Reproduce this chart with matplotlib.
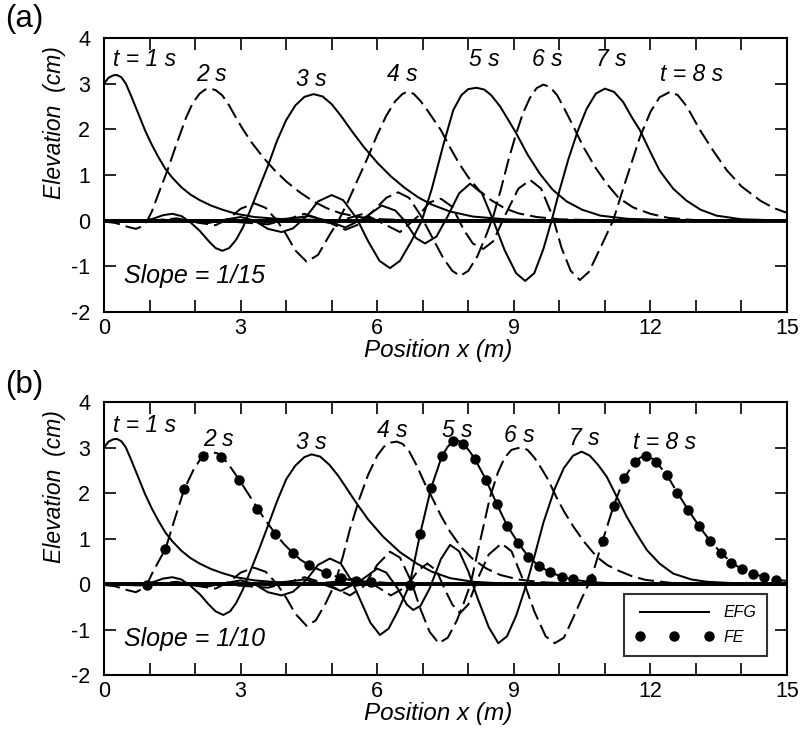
import matplotlib
matplotlib.use("Agg")
import matplotlib.pyplot as plt
from matplotlib.ticker import MultipleLocator
from matplotlib.lines import Line2D

plt.rcParams['font.family'] = ['Liberation Sans', 'DejaVu Sans']
plt.rcParams['axes.unicode_minus'] = False

# ---- panel (a), slope 1/15 : EFG snapshots t = 1..8 s ----
a1_x = [0, 0.1, 0.2, 0.28, 0.38, 0.48, 0.6, 0.75, 0.9, 1.05, 1.2, 1.35, 1.5, 1.7, 1.9, 2.1, 2.35, 2.6, 2.9, 3.3,
        3.8, 4.5, 5.5, 15]
a1_y = [3.0, 3.13, 3.18, 3.19, 3.14, 3.0, 2.72, 2.35, 1.98, 1.66, 1.38, 1.13, 0.94, 0.73, 0.57, 0.45, 0.33, 0.24, 0.15,
        0.08, 0.04, 0.02, 0.0, 0]
a2_x = [0, 0.25, 0.5, 0.7, 0.85, 0.95, 1.05, 1.2, 1.4, 1.6, 1.8, 1.95, 2.1, 2.22, 2.33, 2.45, 2.6, 2.75, 2.9, 3.05,
        3.25, 3.5, 3.75, 4.0, 4.3, 4.6, 4.9, 5.2, 5.6, 6.1, 6.8, 15]
a2_y = [-0.02, -0.05, -0.13, -0.18, -0.12, 0.0, 0.2, 0.6, 1.12, 1.7, 2.25, 2.58, 2.78, 2.87, 2.89, 2.86, 2.74, 2.52,
        2.25, 2.0, 1.7, 1.38, 1.1, 0.86, 0.62, 0.42, 0.27, 0.16, 0.08, 0.03, 0.01, 0]
a3_x = [0, 0.4, 0.8, 1.1, 1.3, 1.5, 1.7, 1.9, 2.1, 2.3, 2.45, 2.6, 2.75, 2.9, 3.05, 3.2, 3.4, 3.6, 3.8, 4.0, 4.2,
        4.4, 4.6, 4.8, 5.0, 5.2, 5.45, 5.7, 6.0, 6.3, 6.6, 6.9, 7.2, 7.6, 8.1, 8.8, 9.6, 15]
a3_y = [0, -0.02, -0.03, 0.05, 0.12, 0.15, 0.1, -0.04, -0.22, -0.45, -0.6, -0.66, -0.6, -0.42, -0.15, 0.2, 0.7, 1.2,
        1.75, 2.2, 2.52, 2.71, 2.77, 2.72, 2.55, 2.3, 1.95, 1.62, 1.27, 0.97, 0.72, 0.51, 0.35, 0.2, 0.09, 0.03, 0.01, 0]
a4_x = [0, 0.8, 1.6, 2.1, 2.45, 2.75, 3.0, 3.3, 3.55, 3.8, 4.0, 4.2, 4.45, 4.7, 4.95, 5.15, 5.35, 5.55, 5.8, 6.0,
        6.2, 6.4, 6.55, 6.65, 6.8, 6.95, 7.1, 7.25, 7.4, 7.6, 7.8, 8.0, 8.25, 8.5, 8.8, 9.1, 9.5, 10.0, 10.8, 15]
a4_y = [0, -0.02, 0.05, -0.05, -0.1, 0.05, 0.26, 0.38, 0.28, 0.0, -0.3, -0.65, -0.9, -0.75, -0.32, 0.0, 0.4, 0.85,
        1.4, 1.88, 2.3, 2.62, 2.77, 2.82, 2.78, 2.62, 2.42, 2.2, 1.98, 1.6, 1.25, 0.95, 0.65, 0.45, 0.27, 0.16, 0.08,
        0.03, 0.01, 0]
a5_x = [0, 1.5, 2.0, 2.3, 2.65, 3.0, 3.3, 3.6, 3.9, 4.15, 4.45, 4.7, 5.0, 5.25, 5.55, 5.8, 6.05, 6.28, 6.5, 6.75,
        6.98, 7.2, 7.45, 7.67, 7.85, 8.0, 8.18, 8.35, 8.5, 8.7, 8.9, 9.06, 9.3, 9.57, 9.85, 10.16, 10.5, 10.9, 11.5,
        12.5, 15]
a5_y = [0, 0, -0.03, -0.05, 0.02, 0.08, 0.0, -0.18, -0.25, -0.17, 0.1, 0.42, 0.56, 0.45, 0.05, -0.45, -0.88, -1.04,
        -0.88, -0.45, 0.0, 0.7, 1.65, 2.42, 2.75, 2.88, 2.91, 2.87, 2.75, 2.5, 2.17, 1.9, 1.45, 1.03, 0.68, 0.42, 0.24,
        0.11, 0.04, 0.01, 0]
a6_x = [0, 2.5, 3.6, 4.0, 4.4, 4.85, 5.3, 5.6, 5.9, 6.2, 6.46, 6.7, 6.95, 7.2, 7.45, 7.65, 7.82, 8.0, 8.2, 8.4,
        8.55, 8.72, 8.88, 9.05, 9.2, 9.35, 9.5, 9.65, 9.8, 9.95, 10.09, 10.3, 10.53, 10.8, 11.04, 11.3, 11.62, 12.0,
        12.4, 13.0, 15]
a6_y = [0, 0, -0.08, 0.02, 0.15, 0.0, -0.2, -0.08, 0.2, 0.5, 0.62, 0.5, 0.12, -0.35, -0.82, -1.1, -1.21, -1.1, -0.78,
        -0.3, 0.1, 0.7, 1.32, 1.9, 2.35, 2.68, 2.9, 2.98, 2.92, 2.75, 2.49, 2.08, 1.61, 1.15, 0.81, 0.5, 0.29, 0.15,
        0.06, 0.01, 0]
a7_x = [0, 3.5, 4.1, 4.5, 4.9, 5.3, 5.7, 6.1, 6.4, 6.6, 6.85, 7.05, 7.3, 7.55, 7.8, 8.04, 8.3, 8.55, 8.8, 9.05,
        9.25, 9.45, 9.65, 9.83, 10.0, 10.2, 10.41, 10.6, 10.8, 11.0, 11.2, 11.4, 11.6, 11.77, 12.0, 12.2, 12.5, 12.79,
        13.1, 13.45, 14.0, 15]
a7_y = [0, 0, 0.05, 0.1, 0.0, -0.15, 0.05, 0.33, 0.22, 0.0, -0.38, -0.5, -0.35, 0.1, 0.6, 0.81, 0.6, 0.0, -0.65,
        -1.15, -1.32, -1.15, -0.62, 0.0, 0.65, 1.35, 1.98, 2.45, 2.78, 2.89, 2.82, 2.6, 2.25, 1.98, 1.5, 1.1, 0.7,
        0.44, 0.24, 0.11, 0.03, 0]
a8_x = [0, 4.5, 5.0, 5.7, 6.1, 6.5, 6.9, 7.15, 7.4, 7.65, 7.9, 8.1, 8.33, 8.55, 8.8, 9.1, 9.36, 9.6, 9.85, 10.05,
        10.25, 10.45, 10.65, 10.9, 11.18, 11.45, 11.77, 12.0, 12.2, 12.43, 12.6, 12.8, 13.09, 13.4, 13.68, 14.0,
        14.41, 14.7, 15.0]
a8_y = [0, 0, -0.05, 0.15, -0.05, -0.25, 0.1, 0.4, 0.48, 0.3, -0.2, -0.5, -0.62, -0.45, 0.1, 0.7, 0.89, 0.7, 0.1,
        -0.6, -1.1, -1.3, -1.12, -0.6, 0.0, 0.85, 1.83, 2.38, 2.7, 2.82, 2.75, 2.5, 1.98, 1.5, 1.1, 0.75, 0.44, 0.28,
        0.17]

# ---- panel (b), slope 1/10 : EFG snapshots ----
b1_x = [0, 0.1, 0.2, 0.28, 0.38, 0.48, 0.6, 0.75, 0.9, 1.05, 1.2, 1.35, 1.5, 1.7, 1.9, 2.1, 2.35, 2.6, 2.9, 3.3,
        3.8, 4.5, 5.5, 15]
b1_y = [3.0, 3.13, 3.18, 3.19, 3.14, 3.0, 2.72, 2.35, 1.98, 1.66, 1.38, 1.13, 0.94, 0.73, 0.57, 0.45, 0.33, 0.24, 0.15,
        0.08, 0.04, 0.02, 0.0, 0]
b2_x = [0, 0.25, 0.5, 0.7, 0.85, 0.94, 1.05, 1.2, 1.35, 1.55, 1.76, 1.97, 2.1, 2.22, 2.37, 2.5, 2.63, 2.77, 2.97,
        3.17, 3.37, 3.56, 3.76, 3.95, 4.14, 4.32, 4.51, 4.87, 5.2, 5.53, 5.86, 6.3, 7.0, 15]
b2_y = [-0.02, -0.05, -0.13, -0.18, -0.1, -0.02, 0.22, 0.5, 0.77, 1.42, 2.08, 2.52, 2.72, 2.85, 2.9, 2.87, 2.76, 2.58,
        2.29, 1.98, 1.66, 1.38, 1.11, 0.88, 0.69, 0.53, 0.41, 0.25, 0.13, 0.07, 0.05, 0.02, 0.0, 0]
b3_x = [0, 0.4, 0.8, 1.1, 1.3, 1.5, 1.7, 1.9, 2.1, 2.3, 2.45, 2.62, 2.77, 2.9, 3.05, 3.2, 3.4, 3.6, 3.8, 4.0, 4.2,
        4.4, 4.56, 4.75, 4.95, 5.15, 5.35, 5.55, 5.8, 6.13, 6.5, 6.87, 7.2, 7.6, 8.1, 8.8, 9.6, 15]
b3_y = [0, -0.02, -0.03, 0.05, 0.12, 0.15, 0.1, -0.04, -0.22, -0.45, -0.6, -0.68, -0.6, -0.42, -0.12, 0.25, 0.75,
        1.28, 1.82, 2.3, 2.6, 2.79, 2.85, 2.8, 2.62, 2.37, 2.07, 1.77, 1.42, 1.04, 0.7, 0.45, 0.27, 0.13, 0.05, 0.01,
        0.0, 0]
b4_x = [0, 0.8, 1.6, 2.1, 2.45, 2.75, 3.0, 3.29, 3.55, 3.8, 4.0, 4.2, 4.45, 4.65, 4.87, 5.07, 5.25, 5.4, 5.6, 5.8,
        6.0, 6.15, 6.3, 6.43, 6.56, 6.7, 6.87, 7.05, 7.23, 7.4, 7.6, 7.85, 8.1, 8.4, 8.7, 9.1, 9.6, 10.3, 15]
b4_y = [0, -0.02, 0.05, -0.05, -0.1, 0.05, 0.25, 0.36, 0.27, 0.0, -0.3, -0.65, -0.92, -0.8, -0.42, 0.0, 0.62, 1.2,
        1.85, 2.4, 2.82, 3.02, 3.11, 3.13, 3.08, 2.92, 2.6, 2.2, 1.85, 1.5, 1.15, 0.8, 0.55, 0.34, 0.2, 0.1, 0.04,
        0.01, 0]
b5_x = [0, 1.5, 2.0, 2.3, 2.65, 3.0, 3.3, 3.6, 3.9, 4.15, 4.45, 4.7, 4.96, 5.2, 5.45, 5.65, 5.85, 6.06, 6.25, 6.45,
        6.71, 6.94, 7.18, 7.42, 7.55, 7.67, 7.78, 7.89, 8.02, 8.15, 8.39, 8.63, 8.86, 9.1, 9.32, 9.56, 9.8, 10.05,
        10.29, 10.7, 11.3, 12.0, 15]
b5_y = [0, 0, -0.03, -0.05, 0.02, 0.08, 0.0, -0.18, -0.25, -0.17, 0.1, 0.42, 0.56, 0.45, 0.05, -0.4, -0.85, -1.12,
        -0.98, -0.6, -0.02, 1.09, 2.1, 2.81, 3.02, 3.14, 3.15, 3.08, 2.93, 2.74, 2.29, 1.75, 1.27, 0.9, 0.6, 0.39,
        0.26, 0.16, 0.1, 0.04, 0.01, 0, 0]
b6_x = [0, 2.5, 3.6, 4.0, 4.4, 4.9, 5.4, 5.7, 6.0, 6.28, 6.5, 6.75, 6.95, 7.15, 7.35, 7.55, 7.75, 7.9, 8.05, 8.25,
        8.48, 8.65, 8.8, 8.95, 9.14, 9.3, 9.45, 9.6, 9.75, 9.94, 10.1, 10.31, 10.55, 10.82, 11.05, 11.26, 11.6, 11.9,
        12.5, 15]
b6_y = [0, 0, -0.08, 0.02, 0.15, 0.0, -0.25, -0.05, 0.42, 0.71, 0.58, 0.05, -0.55, -1.05, -1.3, -1.18, -0.8, -0.42,
        0.0, 0.9, 1.92, 2.45, 2.78, 2.95, 3.0, 2.95, 2.78, 2.55, 2.3, 1.9, 1.6, 1.26, 0.92, 0.6, 0.42, 0.31, 0.17,
        0.09, 0.02, 0]
b7_x = [0, 3.5, 4.0, 4.4, 4.8, 5.2, 5.6, 6.0, 6.2, 6.45, 6.65, 6.79, 6.95, 7.15, 7.4, 7.6, 7.8, 8.0, 8.2, 8.45,
        8.66, 8.85, 9.05, 9.28, 9.45, 9.65, 9.9, 10.1, 10.3, 10.49, 10.67, 10.85, 11.04, 11.26, 11.48, 11.7, 11.92,
        12.2, 12.5, 12.9, 13.24, 14, 15]
b7_y = [0, 0, 0.05, 0.1, 0.0, -0.15, 0.05, 0.34, 0.25, -0.1, -0.45, -0.57, -0.48, -0.1, 0.55, 0.86, 0.72, 0.28,
        -0.3, -0.95, -1.3, -1.15, -0.7, 0.0, 0.6, 1.35, 2.1, 2.55, 2.82, 2.91, 2.82, 2.62, 2.36, 1.92, 1.48, 1.1, 0.75,
        0.45, 0.23, 0.1, 0.05, 0.01, 0]
b8_x = [0, 4.5, 5.1, 5.5, 5.9, 6.3, 6.65, 6.9, 7.1, 7.3, 7.5, 7.65, 7.82, 8.0, 8.2, 8.45, 8.73, 8.95, 9.2, 9.45,
        9.7, 9.9, 10.1, 10.3, 10.5, 10.7, 10.95, 11.19, 11.42, 11.66, 11.78, 11.9, 12.01, 12.12, 12.36, 12.59, 12.83,
        13.07, 13.31, 13.55, 13.78, 14.02, 14.26, 14.5, 14.76, 15]
b8_y = [0, 0, 0.05, 0.12, 0.0, -0.25, -0.05, 0.3, 0.45, 0.3, -0.15, -0.45, -0.64, -0.45, 0.1, 0.65, 0.89, 0.72, 0.1,
        -0.6, -1.15, -1.3, -1.18, -0.75, -0.3, 0.12, 0.95, 1.71, 2.32, 2.69, 2.78, 2.82, 2.78, 2.69, 2.4, 2.01, 1.63,
        1.27, 0.95, 0.69, 0.47, 0.32, 0.23, 0.15, 0.09, 0.07]

# FE results (dots) at t = 2, 5, 8 s in panel (b)
fe2_x = [0.94, 1.35, 1.76, 2.18, 2.56, 2.97, 3.37, 3.76, 4.14, 4.51, 4.87, 5.2, 5.53, 5.86]
fe2_y = [-0.02, 0.77, 2.08, 2.81, 2.80, 2.29, 1.66, 1.11, 0.69, 0.41, 0.25, 0.13, 0.07, 0.05]
fe5_x = [6.71, 6.94, 7.18, 7.42, 7.67, 7.89, 8.15, 8.39, 8.63, 8.86, 9.1, 9.32, 9.56, 9.8, 10.05, 10.29]
fe5_y = [-0.02, 1.09, 2.1, 2.81, 3.14, 3.08, 2.74, 2.29, 1.75, 1.27, 0.9, 0.6, 0.39, 0.26, 0.16, 0.1]
fe8_x = [10.7, 10.95, 11.19, 11.42, 11.66, 11.9, 12.12, 12.36, 12.59, 12.83, 13.07, 13.31, 13.55, 13.78, 14.02,
         14.26, 14.5, 14.76]
fe8_y = [0.12, 0.95, 1.71, 2.32, 2.69, 2.81, 2.69, 2.4, 2.01, 1.63, 1.27, 0.95, 0.69, 0.47, 0.32, 0.23, 0.15, 0.09]

# time labels: (text, x, y, ha)
a_labels = [("t = 1 s", 0.2, 3.52, 'left'), ("2 s", 2.35, 3.19, 'center'), ("3 s", 4.55, 3.08, 'center'),
            ("4 s", 6.55, 3.19, 'center'), ("5 s", 8.35, 3.52, 'center'), ("6 s", 9.73, 3.52, 'center'),
            ("7 s", 11.14, 3.52, 'center'), ("t = 8 s", 12.9, 3.19, 'center')]
b_labels = [("t = 1 s", 0.2, 3.49, 'left'), ("2 s", 2.52, 3.17, 'center'), ("3 s", 4.55, 3.1, 'center'),
            ("4 s", 6.33, 3.38, 'center'), ("5 s", 7.75, 3.38, 'center'), ("6 s", 9.12, 3.27, 'center'),
            ("7 s", 10.54, 3.2, 'center'), ("t = 8 s", 12.3, 3.1, 'center')]

DASH = (0, (8, 3))
LW = 1.45


def draw_panel(ax, curves, labels, slope_text):
    ax.axhline(0, color='k', lw=2.8, zorder=1)
    for i, (xs, ys) in enumerate(curves):
        ls = '-' if i % 2 == 0 else DASH
        ax.plot(xs, ys, color='k', lw=LW, linestyle=ls, zorder=2)
    for txt, x, y, ha in labels:
        ax.text(x, y, txt, fontsize=16.5, style='italic', ha=ha, va='center')
    ax.text(0.44, -1.21, slope_text, fontsize=18, style='italic', ha='left', va='center')

    ax.set_xlim(0, 15)
    ax.set_ylim(-2, 4)
    ax.xaxis.set_major_locator(MultipleLocator(3))
    ax.xaxis.set_minor_locator(MultipleLocator(1))
    ax.yaxis.set_major_locator(MultipleLocator(1))
    ax.tick_params(which='both', direction='in', length=8.5, width=1.2, top=True, right=True)
    ax.tick_params(axis='x', labelsize=15.5, pad=4)
    ax.tick_params(axis='y', labelsize=15.5, pad=10)
    for sp in ax.spines.values():
        sp.set_linewidth(1.5)
    ax.set_xlabel("Position x (m)", fontsize=17.5, style='italic')
    ax.xaxis.set_label_coords(0.49, -0.1)
    ax.set_ylabel("Elevation  (cm)", fontsize=16.5, style='italic')
    ax.yaxis.set_label_coords(-0.055, 0.69)


fig = plt.figure(figsize=(8.02, 7.4), dpi=100)
ax_a = fig.add_axes([0.1297, 0.5784, 0.8516, 0.3703])
ax_b = fig.add_axes([0.1297, 0.0878, 0.8516, 0.3689])

draw_panel(ax_a, [(a1_x, a1_y), (a2_x, a2_y), (a3_x, a3_y), (a4_x, a4_y),
                  (a5_x, a5_y), (a6_x, a6_y), (a7_x, a7_y), (a8_x, a8_y)], a_labels, "Slope = 1/15")
draw_panel(ax_b, [(b1_x, b1_y), (b2_x, b2_y), (b3_x, b3_y), (b4_x, b4_y),
                  (b5_x, b5_y), (b6_x, b6_y), (b7_x, b7_y), (b8_x, b8_y)], b_labels, "Slope = 1/10")

for fx, fy in [(fe2_x, fe2_y), (fe5_x, fe5_y), (fe8_x, fe8_y)]:
    ax_b.plot(fx, fy, 'o', color='k', ms=6.5, zorder=3)

handles = [Line2D([], [], color='k', lw=LW),
           Line2D([], [], color='k', linestyle='none', marker='o', ms=6.5)]
leg = ax_b.legend(handles, ['EFG', 'FE'], loc='lower right', bbox_to_anchor=(0.971, 0.07),
                  borderaxespad=0, numpoints=3, handlelength=4.9, fancybox=False,
                  prop={'size': 11.5, 'style': 'italic'}, handletextpad=0.6, borderpad=0.7, labelspacing=0.6)
leg.get_frame().set_edgecolor('k')
leg.get_frame().set_linewidth(1.5)

fig.text(0.006, 0.995, "(a)", fontsize=22.5, va='top', ha='left')
fig.text(0.006, 0.5, "(b)", fontsize=22.5, va='top', ha='left')

fig.savefig("out.png", dpi=100)
